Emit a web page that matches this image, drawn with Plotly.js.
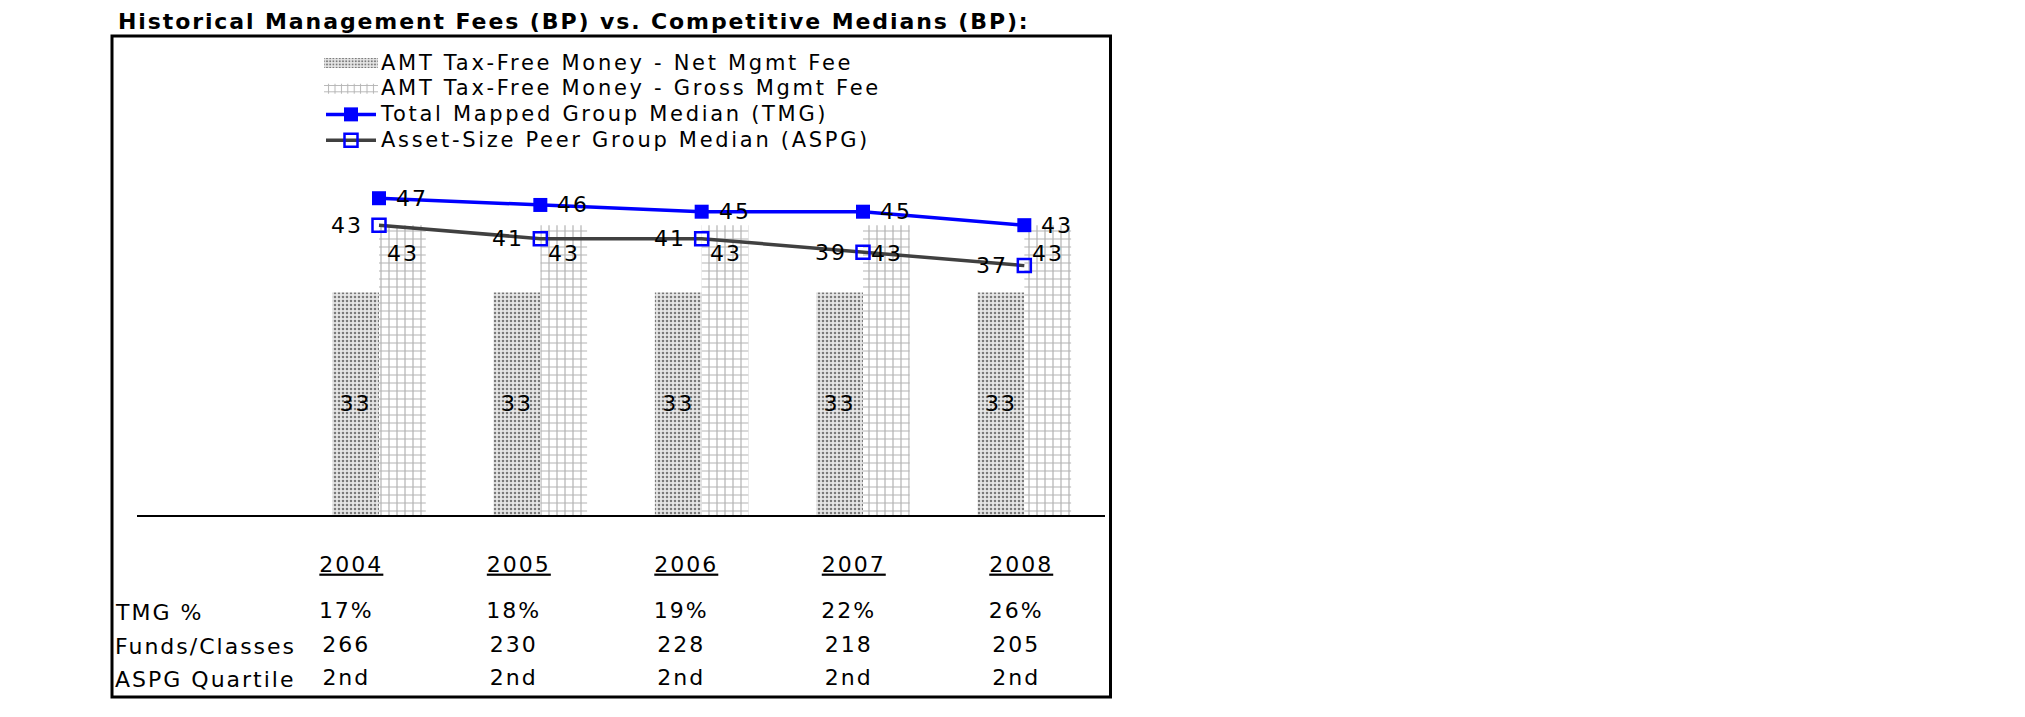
<!DOCTYPE html>
<html><head><meta charset="utf-8">
<script src="https://cdn.plot.ly/plotly-3.0.1.min.js"></script>
<style>
html,body{margin:0;padding:0;background:#fff;}
#chart{width:2025px;height:717px;}
text{letter-spacing:2px;}
text.legendtext{font-size:21px !important;letter-spacing:2.7px;}
text.gtitle{letter-spacing:1.9px;}
#chart .legend .scrollbox{clip-path:none !important;}
#chart .legendpoints path.legendundefined,
#chart .legendpoints path.legendbar{d:path('M27,5H-27V-5H27Z');}
</style>
</head><body><div id="chart"></div>
<script>
// ---- data ----
const years = ['2004', '2005', '2006', '2007', '2008'];
const netFee = [33, 33, 33, 33, 33];
const grossFee = [43, 43, 43, 43, 43];
const tmgMedian = [47, 46, 45, 45, 43];
const aspgMedian = [43, 41, 41, 39, 37];
const tmgPct = ['17%', '18%', '19%', '22%', '26%'];
const fundsClasses = [266, 230, 228, 218, 205];
const aspgQuartile = ['2nd', '2nd', '2nd', '2nd', '2nd'];
const rowLabels = ['TMG %', 'Funds/Classes', 'ASPG Quartile'];
const seriesNames = [
  'AMT Tax-Free Money - Net Mgmt Fee',
  'AMT Tax-Free Money - Gross Mgmt Fee',
  'Total Mapped Group Median (TMG)',
  'Asset-Size Peer Group Median (ASPG)'
];
const titleText = 'Historical Management Fees (BP) vs. Competitive Medians (BP):';

// ---- layout helpers (pixel -> paper fraction) ----
const W = 2025, H = 717;
const px = v => v / W;
const py = v => 1 - v / H;
const FONT = 'DejaVu Sans';
const yearNums = years.map(Number);
const labelFont = {family: FONT, size: 22, color: '#000'};

const traces = [
  {
    type: 'bar', name: seriesNames[0], x: years, y: netFee,
    marker: {color: '#e4e4e4', line: {width: 0},
      pattern: {shape: '.', fgcolor: '#7a7a7a', bgcolor: '#e6e6e6', size: 4, solidity: 0.32}},
    text: netFee.map(String), textposition: 'inside', insidetextanchor: 'middle',
    textangle: 0, constraintext: 'none', textfont: labelFont, hoverinfo: 'x+y'
  },
  {
    type: 'bar', name: seriesNames[1], x: years, y: grossFee,
    marker: {color: '#ffffff', line: {width: 0},
      pattern: {shape: '+', fgcolor: '#b4b4b4', bgcolor: '#ffffff', size: 8, solidity: 0.28}},
    hoverinfo: 'x+y'
  },
  {
    type: 'scatter', mode: 'lines+markers', name: seriesNames[2], x: years, y: tmgMedian,
    line: {color: '#0000ff', width: 3.5},
    marker: {symbol: 'square', size: 14, color: '#0000ff'}, cliponaxis: false
  },
  {
    type: 'scatter', mode: 'lines+markers', name: seriesNames[3], x: years, y: aspgMedian,
    line: {color: '#404040', width: 3.5},
    marker: {symbol: 'square-open', size: 13, color: '#0000ff', line: {width: 2.5, color: '#0000ff'}},
    cliponaxis: false
  },
  // table rows
  {
    type: 'scatter', mode: 'text', x: yearNums, y: years.map(() => rowLabels[0]), text: tmgPct,
    xaxis: 'x2', yaxis: 'y2', showlegend: false, hoverinfo: 'skip', cliponaxis: false, textfont: labelFont
  },
  {
    type: 'scatter', mode: 'text', x: yearNums, y: years.map(() => rowLabels[1]), text: fundsClasses.map(String),
    xaxis: 'x2', yaxis: 'y2', showlegend: false, hoverinfo: 'skip', cliponaxis: false, textfont: labelFont
  },
  {
    type: 'scatter', mode: 'text', x: yearNums, y: years.map(() => rowLabels[2]), text: aspgQuartile,
    xaxis: 'x2', yaxis: 'y2', showlegend: false, hoverinfo: 'skip', cliponaxis: false, textfont: labelFont
  }
];

const annotations = [];
years.forEach((yr, i) => {
  // gross bar value labels
  annotations.push({
    x: i, y: grossFee[i], xref: 'x', yref: 'y', text: String(grossFee[i]),
    showarrow: false, xshift: 24, yshift: -28, xanchor: 'center', yanchor: 'middle', font: labelFont
  });
  // TMG labels (right of marker)
  annotations.push({
    x: i, y: tmgMedian[i], xref: 'x', yref: 'y', text: String(tmgMedian[i]),
    showarrow: false, xshift: 15, xanchor: 'left', yanchor: 'middle', font: labelFont
  });
  // ASPG labels (left of marker)
  annotations.push({
    x: i, y: aspgMedian[i], xref: 'x', yref: 'y', text: String(aspgMedian[i]),
    showarrow: false, xshift: -14, xanchor: 'right', yanchor: 'middle', font: labelFont
  });
});
rowLabels.forEach(r => {
  annotations.push({
    xref: 'paper', x: px(113), xanchor: 'left', yref: 'y2', y: r, yanchor: 'middle',
    text: r, showarrow: false, font: labelFont
  });
});

const layout = {
  width: W, height: H,
  margin: {l: 0, r: 0, t: 0, b: 0},
  paper_bgcolor: '#fff', plot_bgcolor: 'rgba(0,0,0,0)',
  font: {family: FONT, size: 20, color: '#000'},
  title: {
    text: '<b>' + titleText + '</b>', font: {family: FONT, size: 22, color: '#000'},
    xref: 'container', yref: 'container', x: px(118), xanchor: 'left', y: py(21), yanchor: 'middle'
  },
  barmode: 'group', bargap: 0.42, bargroupgap: 0,
  showlegend: true,
  legend: {
    x: px(321), y: py(45), xanchor: 'left', yanchor: 'top', orientation: 'v',
    bgcolor: 'rgba(0,0,0,0)', font: {family: FONT, size: 17.5, color: '#000'},
    traceorder: 'normal', itemwidth: 50
  },
  xaxis: {
    type: 'category', categoryarray: years, range: [-1.5, 4.5],
    domain: [px(137), px(1105)], anchor: 'y',
    showline: true, linecolor: '#000', linewidth: 2, ticks: '', showticklabels: false,
    showgrid: false, zeroline: false, fixedrange: true
  },
  yaxis: {
    range: [0, 376 / 6.74], domain: [py(515), py(139)], visible: false, fixedrange: true
  },
  xaxis2: {
    type: 'linear', range: [2002.75, 2008.53], domain: [px(137), px(1105)], anchor: 'y2', side: 'top',
    tickvals: yearNums, ticktext: years.map(y => '<u>' + y + '</u>'), ticks: '', ticklabelshift: 5,
    showline: false, showgrid: false, zeroline: false, tickfont: labelFont, fixedrange: true
  },
  yaxis2: {
    type: 'category', categoryarray: rowLabels.slice().reverse(), range: [-0.545, 3.09],
    domain: [py(697), py(577)], anchor: 'x2', visible: false, fixedrange: true
  },
  shapes: [{
    type: 'rect', xref: 'paper', yref: 'paper',
    x0: px(112), x1: px(1110.5), y0: py(36), y1: py(697),
    line: {color: '#000', width: 3}, fillcolor: 'rgba(0,0,0,0)'
  }],
  annotations: annotations
};

Plotly.newPlot('chart', traces, layout, {displayModeBar: false, staticPlot: true});
</script>
</body></html>
